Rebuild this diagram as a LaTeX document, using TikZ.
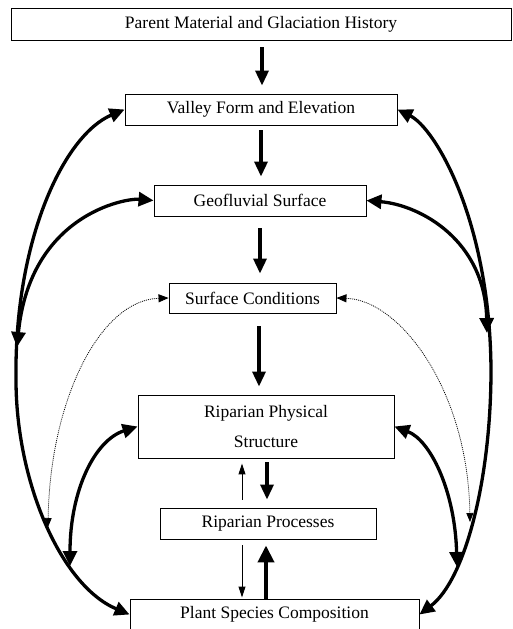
\documentclass[tikz,border=0pt]{standalone}
\usepackage{fontspec}
\setmainfont{Liberation Serif}
\usetikzlibrary{arrows.meta,calc}
\begin{document}
\begin{tikzpicture}[x=1pt,y=-1pt,
  box/.style={draw, line width=0.9pt, inner sep=0pt, align=center, font=\fontsize{17.5}{30}\selectfont},
  thk/.style={line width=3.3pt, -{Triangle[length=15pt,width=13pt]}},
  thkup/.style={line width=4pt, -{Triangle[length=17pt,width=16pt]}},
  thkb/.style={line width=3.3pt, {Triangle[length=15pt,width=14pt]}-{Triangle[length=15pt,width=14pt]}},
  thn/.style={line width=1pt, -{Triangle[length=11pt,width=7pt]}},
  dotarr/.style={line width=0.75pt, dash pattern=on 1pt off 1pt, {Triangle[length=10pt,width=8pt]}-{Triangle[length=9pt,width=7pt]}}]
\useasboundingbox (0,0) rectangle (512,629);
\clip (0,0) rectangle (512,629);
% boxes
\node[box, minimum width=500pt, minimum height=32pt] (pm) at (261,24) {Parent Material and Glaciation History};
\node[box, minimum width=272pt, minimum height=31pt] (vf) at (261,109.5) {Valley Form and Elevation};
\node[box, minimum width=212pt, minimum height=31pt] (gs) at (260,200.5) {Geofluvial Surface};
\node[box, minimum width=167pt, minimum height=30pt] (sc) at (252.5,298) {Surface Conditions};
\node[box, minimum width=256pt, minimum height=63pt] (rps) at (266,426.5) {Riparian Physical\\Structure};
\node[box, minimum width=216pt, minimum height=31pt] (rp) at (268,523.5) {Riparian Processes};
\node[box, minimum width=289pt, minimum height=31pt] (psc) at (274.5,614.5) {Plant Species Composition};
% helper coordinates
\coordinate (c1) at ($(rp.north)+(-26,0)$);
\coordinate (c2) at ($(rp.north)+(-1,0)$);
\coordinate (c3) at ($(rp.south)+(-26,0)$);
\coordinate (c4) at ($(rp.south)+(-2,0)$);
\coordinate (c5) at ($(sc.south)+(6.5,0)$);
\coordinate (c6) at ($(pm.south)+(1,0)$);
\coordinate (lg) at (17,347);
\coordinate (lr) at (70,566);
\coordinate (ld) at (48,527);
\coordinate (rg) at (487,333);
\coordinate (rr) at (457,567);
\coordinate (rd) at (470,522);
% central arrows
\draw[thk, shorten <=7pt, shorten >=8pt] (c6) -- (c6 |- vf.north);
\draw[thk, shorten <=5pt, shorten >=8pt] (vf.south) -- (vf.south |- gs.north);
\draw[thk, shorten <=12pt, shorten >=9pt] (gs.south) -- (gs.south |- sc.north);
\draw[thk, shorten <=13pt, shorten >=8pt] (c5) -- (c5 |- rps.north);
\draw[thn, shorten <=8pt, shorten >=5pt] (c1) -- (c1 |- rps.south);
\draw[thk, shorten <=4pt, shorten >=8pt] (c2 |- rps.south) -- (c2);
\draw[thn, shorten <=6pt, shorten >=1pt] (c3) -- (c3 |- psc.north);
\draw[thkup, shorten >=6pt] (c4 |- psc.north) -- (c4);
% left curves
\draw[thkb] (vf.west) .. controls (64,135) and (14,240) .. (16,380) .. controls (16,480) and (60,585) .. (psc.west);
\draw[thkb] (gs.west) .. controls (125,198) and (30,215) .. (lg);
\draw[thkb] (rps.west) .. controls (95,440) and (70,490) .. (lr);
\draw[dotarr] (sc.west) .. controls (100,300) and (50,400) .. (ld);
% right curves
\draw[thkb] (vf.east) .. controls (435,128) and (490,220) .. (491,370) .. controls (491,480) and (465,580) .. (psc.east);
\draw[thkb] (gs.east) .. controls (420,205) and (485,240) .. (rg);
\draw[thkb] (rps.east) .. controls (430,440) and (455,490) .. (rr);
\draw[dotarr] (sc.east) .. controls (400,300) and (468,390) .. (rd);
\end{tikzpicture}
\end{document}
